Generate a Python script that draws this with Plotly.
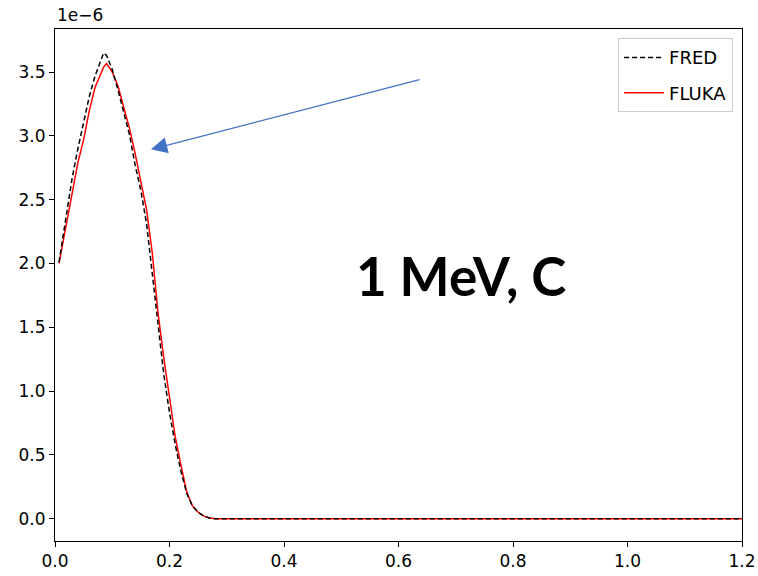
import plotly.graph_objects as go

# Depth grid (cm) shared by both curves
x = [0.007, 0.01, 0.02, 0.03, 0.04, 0.05, 0.06, 0.07, 0.08, 0.085, 0.09,
     0.10, 0.11, 0.12, 0.13, 0.14, 0.15, 0.16, 0.17, 0.18, 0.19, 0.20,
     0.21, 0.22, 0.23, 0.24, 0.25, 0.26, 0.27, 0.28, 0.30, 0.40, 0.50,
     0.60, 0.70, 0.80, 0.90, 1.00, 1.10, 1.20]

# Dose values in units of 1e-6
fred = [2.01, 2.10, 2.38, 2.67, 2.90, 3.11, 3.31, 3.47, 3.60, 3.65, 3.63,
        3.52, 3.36, 3.18, 3.01, 2.77, 2.57, 2.31, 1.92, 1.48, 1.13, 0.83,
        0.58, 0.37, 0.20, 0.10, 0.05, 0.02, 0.005, 0.0, 0.0, 0.0, 0.0,
        0.0, 0.0, 0.0, 0.0, 0.0, 0.0, 0.0]
fluka = [2.0, 2.07, 2.31, 2.55, 2.79, 2.97, 3.20, 3.38, 3.49, 3.54, 3.566,
         3.50, 3.39, 3.22, 3.06, 2.86, 2.65, 2.42, 2.08, 1.61, 1.26, 0.94,
         0.64, 0.42, 0.21, 0.10, 0.05, 0.02, 0.005, 0.0, 0.0, 0.0, 0.0,
         0.0, 0.0, 0.0, 0.0, 0.0, 0.0, 0.0]

x_ticks = [0.0, 0.2, 0.4, 0.6, 0.8, 1.0, 1.2]
y_ticks = [0.0, 0.5, 1.0, 1.5, 2.0, 2.5, 3.0, 3.5]

font_main = "DejaVu Sans"

fig = go.Figure()
fig.add_trace(go.Scatter(
    x=x, y=fluka, mode="lines", name="FLUKA", legendrank=2,
    legendgroup="fluka",
    line=dict(color="#ff0000", width=1.5),
))
fig.add_trace(go.Scatter(
    x=x, y=fred, mode="lines", name="FRED", legendrank=1,
    legendgroup="fred",
    line=dict(color="#000000", width=1.5, dash="5px,3px"),
))

fig.update_layout(
    width=758, height=576,
    margin=dict(l=55, r=16, t=29, b=35),
    paper_bgcolor="white", plot_bgcolor="white",
    font=dict(family=font_main, size=17, color="#000000"),
    showlegend=True,
    legend=dict(
        x=0.987, y=0.982, xanchor="right", yanchor="top",
        bgcolor="white", bordercolor="#cccccc", borderwidth=1,
        font=dict(family=font_main, size=18),
        tracegroupgap=9, itemwidth=40,
    ),
    xaxis=dict(
        range=[0, 1.2], tickvals=x_ticks, tickformat=".1f",
        showgrid=False, zeroline=False, automargin=False,
        showline=True, linecolor="black", linewidth=1, mirror=True,
        ticks="outside", ticklen=5, tickcolor="black",
    ),
    yaxis=dict(
        range=[-0.175, 3.837], tickvals=y_ticks, tickformat=".1f",
        showgrid=False, zeroline=False, automargin=False,
        showline=True, linecolor="black", linewidth=1, mirror=True,
        ticks="outside", ticklen=5, tickcolor="black",
    ),
)

# Offset exponent label above the y axis
fig.add_annotation(
    text="1e\u22126", xref="paper", yref="paper", x=0, y=1.0,
    xanchor="left", yanchor="bottom", yshift=2, showarrow=False,
    font=dict(family=font_main, size=17),
)

# Energy / material label
fig.add_annotation(
    text="<b>1 MeV, C</b>", xref="paper", yref="paper", x=0.591, y=0.518,
    xanchor="center", yanchor="middle", showarrow=False,
    font=dict(family="Lato", size=53, color="#000000"),
)

# Pointer to the falling edge of the peak
fig.add_annotation(
    x=0.1677, y=2.894, xref="x", yref="y", ax=270, ay=-70,
    text="", showarrow=True, arrowhead=2, arrowsize=2.5, arrowwidth=1.3,
    arrowcolor="#4472C4", standoff=0,
)

fig.write_html("out.html")
